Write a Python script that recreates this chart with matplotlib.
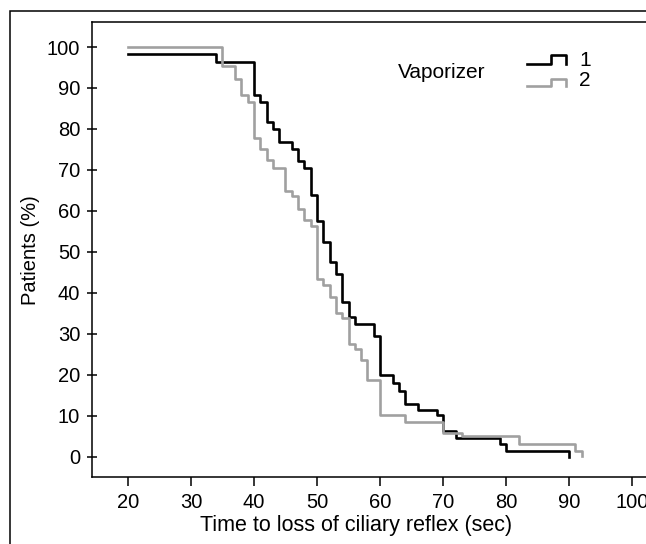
import matplotlib
matplotlib.use("Agg")
import matplotlib.pyplot as plt
from matplotlib.lines import Line2D
from matplotlib.patches import Rectangle

plt.rcParams['font.family'] = ['Liberation Sans', 'DejaVu Sans']

# Kaplan-Meier steps (time in sec, % patients)
vap1_time = [20, 34, 40, 41, 42, 43, 44, 46, 47, 48, 49, 50, 51, 52, 53, 54, 55, 56,
             59, 60, 62, 63, 64, 66, 69, 70, 72, 79, 80, 90]
vap1_pct = [98.3, 96.4, 88.2, 86.5, 81.6, 80.0, 76.9, 75.0, 72.2, 70.6, 63.9, 57.6, 52.5,
            47.5, 44.6, 37.9, 34.2, 32.4, 29.5, 20.0, 18.0, 16.1, 13.0, 11.5, 10.2, 6.4,
            4.6, 3.2, 1.5, 0.0]

vap2_time = [20, 35, 37, 38, 39, 40, 41, 42, 43, 45, 46, 47, 48, 49, 50, 51, 52, 53, 54,
             55, 56, 57, 58, 60, 64, 70, 73, 82, 91, 92]
vap2_pct = [100.0, 95.4, 92.3, 88.2, 86.7, 77.8, 75.0, 72.4, 70.6, 64.9, 63.7, 60.4, 57.8,
            56.4, 43.3, 42.0, 39.1, 35.2, 33.8, 27.5, 26.3, 23.7, 18.8, 10.2, 8.4, 5.8,
            5.0, 3.2, 1.5, 0.2]

x_ticks = [20, 30, 40, 50, 60, 70, 80, 90, 100]
y_ticks = [0, 10, 20, 30, 40, 50, 60, 70, 80, 90, 100]

W, H = 646, 544
fig = plt.figure(figsize=(W / 100, H / 100), dpi=100)

# outer frame (cut off at right and bottom like the source)
fig.add_artist(Rectangle((10 / W, -0.2), 1.5, (H - 11) / H + 0.2, transform=fig.transFigure,
                         fill=False, lw=1.1, color='black'))

ax = fig.add_axes([92 / W, 67 / H, 571 / W, 455 / H])
ax.step(vap1_time, vap1_pct, where='post', color='black', lw=1.9)
ax.step(vap2_time, vap2_pct, where='post', color='#a0a0a0', lw=1.9)

ax.set_xlim(14.3, 104.9)
ax.set_ylim(-4.9, 106.1)
ax.set_xticks(x_ticks)
ax.set_yticks(y_ticks)
ax.tick_params(axis='x', direction='out', length=6.5, width=1.1, pad=5, labelsize=14.5)
ax.tick_params(axis='y', direction='inout', length=7, width=1.1, pad=5, labelsize=14.5)
for s in ax.spines.values():
    s.set_linewidth(1.1)

fig.text(30 / W, 1 - 250 / H, 'Patients (%)', rotation=90, ha='center', va='center', fontsize=14.5)
fig.text(356 / W, 1 - 525 / H, 'Time to loss of ciliary reflex (sec)', ha='center', va='center',
         fontsize=15.5)

# legend drawn by hand to get the step glyphs
fig.text(442 / W, 1 - 73 / H, 'Vaporizer', ha='center', va='center', fontsize=15)
for ylo, yhi, col, lab, ytxt in [(64, 55, 'black', '1', 60), (86, 79, '#a0a0a0', '2', 80)]:
    xs = [527, 551, 551, 566, 566]
    ys = [ylo, ylo, yhi, yhi, ylo]
    fig.add_artist(Line2D([x / W for x in xs], [1 - y / H for y in ys],
                          transform=fig.transFigure, color=col, lw=1.9))
    fig.text(579 / W, 1 - ytxt / H, lab, ha='left', va='center', fontsize=15)

fig.savefig('out.png', dpi=100)
